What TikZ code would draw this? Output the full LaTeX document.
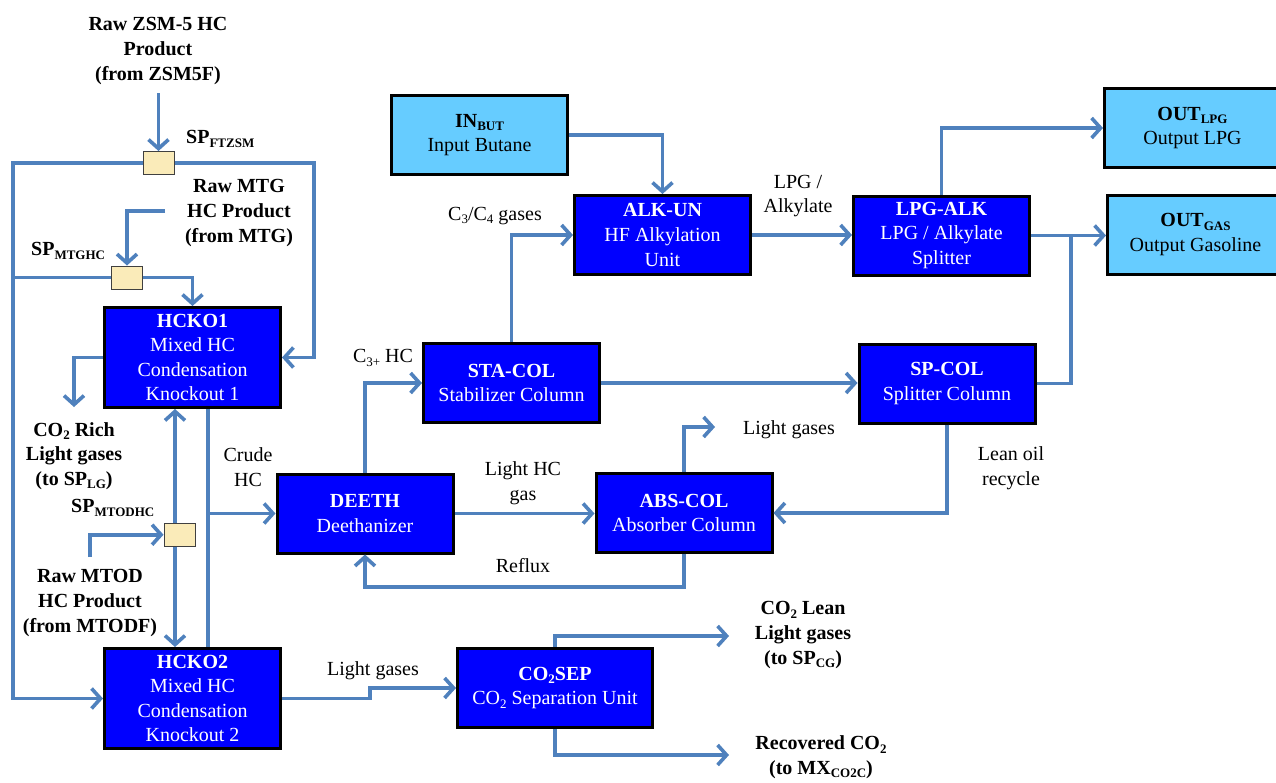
\documentclass[tikz,border=0pt]{standalone}
\usepackage{fontspec}
\setmainfont{Liberation Serif}
\usetikzlibrary{arrows.meta,calc}
\definecolor{procblue}{RGB}{0,0,255}
\definecolor{iobox}{RGB}{102,204,255}
\definecolor{pipeblue}{RGB}{79,129,189}
\definecolor{splitfill}{RGB}{250,235,185}
\newcommand\sub[1]{\raisebox{-3.5pt}{\fontsize{13}{13}\selectfont #1}}
\tikzset{
  unit/.style={draw=black, line width=3pt, fill=procblue, text=white,
    minimum width=176pt, minimum height=79pt, align=center, inner sep=0pt,
    font=\fontsize{20}{24.6}\selectfont},
  iounit/.style={unit, fill=iobox, text=black},
  splitter/.style={draw=black!75, line width=1pt, fill=splitfill,
    minimum width=31pt, minimum height=23pt, inner sep=0pt},
  lbl/.style={align=center, inner sep=0pt, font=\fontsize{20}{24.6}\selectfont},
  blbl/.style={lbl, font=\fontsize{20}{24.6}\selectfont\bfseries},
  pipe/.style={draw=pipeblue, line width=3.6pt},
  flow/.style={pipe, -{Straight Barb[length=9pt,width=20pt]}}
}
\begin{document}
\begin{tikzpicture}[x=1pt,y=-1pt]
\clip (0,0) rectangle (1276,782);
\fill[white] (0,0) rectangle (1276,782);

% process units
\node[iounit] (inbut)  at (479.5,135)   {\textbf{IN\sub{BUT}}\\Input Butane};
\node[unit]   (alkun)  at (662.5,235)   {\textbf{ALK-UN}\\HF Alkylation\\Unit};
\node[unit]   (lpgalk) at (941.5,235.5) {\textbf{LPG-ALK}\\LPG / Alkylate\\Splitter};
\node[iounit] (outlpg) at (1192.5,128)  {\textbf{OUT\sub{LPG}}\\Output LPG};
\node[iounit] (outgas) at (1195.5,234.5){\textbf{OUT\sub{GAS}}\\Output Gasoline};
\node[unit]   (stacol) at (511.5,383)   {\textbf{STA-COL}\\Stabilizer Column};
\node[unit]   (spcol)  at (947,383.5)   {\textbf{SP-COL}\\Splitter Column};
\node[unit]   (deeth)  at (365,513.5)   {\textbf{DEETH}\\Deethanizer};
\node[unit]   (abscol) at (684,513)     {\textbf{ABS-COL}\\Absorber Column};
\node[unit, minimum height=100pt] (hcko1) at (192.5,357.5)
  {\textbf{HCKO1}\\Mixed HC\\Condensation\\Knockout 1};
\node[unit, minimum height=100pt] (hcko2) at (192.5,698.5)
  {\textbf{HCKO2}\\Mixed HC\\Condensation\\Knockout 2};
\node[unit, minimum width=195pt] (co2sep) at (555,688)
  {\textbf{CO\sub{2}SEP}\\CO\sub{2} Separation Unit};

% splitters
\node[splitter] (sp1) at (158.5,163)   {};
\node[splitter] (sp2) at (127,277.5)   {};
\node[splitter] (sp3) at (179.5,534.7) {};

% stream labels
\node[blbl] (zsmlbl)  at (158,51)  {Raw ZSM-5 HC\\Product\\(from ZSM5F)};
\node[blbl, anchor=west] (sp1lbl) at (186,139) {SP\sub{FTZSM}};
\node[blbl] (mtglbl)  at (239,213) {Raw MTG\\HC Product\\(from MTG)};
\node[blbl, anchor=west] (sp2lbl) at (31,251) {SP\sub{MTGHC}};
\node[blbl] (co2rlbl) at (74,456)  {CO\sub{2} Rich\\Light gases\\(to SP\sub{LG})};
\node[blbl, anchor=west] (sp3lbl) at (71,508) {SP\sub{MTODHC}};
\node[blbl] (mtodlbl) at (90,603)  {Raw MTOD\\HC Product\\(from MTODF)};
\node[lbl] (crudelbl) at (248,467) {Crude\\HC};
\node[lbl] (c34lbl)   at (495,216) {C\sub{3}/C\sub{4} gases};
\node[lbl] (lpglbl)   at (798,196) {LPG /\\Alkylate};
\node[lbl] (c3lbl)    at (383,358) {C\sub{3+} HC};
\node[lbl] (lhclbl)   at (523,483) {Light HC\\gas};
\node[lbl] (lglbl)    at (789,430) {Light gases};
\node[lbl] (leanlbl)  at (1011,468){Lean oil\\recycle};
\node[lbl] (reflbl)   at (523,566) {Reflux};
\node[lbl] (lg2lbl)   at (373,671) {Light gases};
\node[blbl] (leanco2) at (803,635) {CO\sub{2} Lean\\Light gases\\(to SP\sub{CG})};
\node[blbl] (recco2)  at (821,757) {Recovered CO\sub{2}\\(to MX\sub{CO2C})};

% free stream ends and bends
\coordinate (zsmA)  at (158.5,93);
\coordinate (L1)    at (13,163);
\coordinate (R1)    at (314,163);
\coordinate (L3)    at (13,277.5);
\coordinate (mtgA)  at (165,211);
\coordinate (co2r)  at (74,407);
\coordinate (mtodA) at (90,557);
\coordinate (stp)   at (370,692);
\coordinate (lean)  at (729,636);
\coordinate (rec)   at (729,755);
\coordinate (lgas)  at (715,427);
\coordinate (jg)    at (1071,234);

% feeds into the knockouts
\draw[flow] (zsmA) -- (sp1.north);
\draw[flow] (sp1.west) -- (L1) |- (hcko2.west);
\draw[flow] (sp1.east) -- (R1) |- (hcko1.east);
\draw[flow] (mtgA) -| (sp2.north);
\draw[pipe] (sp2.west) -- (L3);
\draw[flow] (sp2.east) -| (hcko1.north);
\draw[flow] (hcko1.west) -| (co2r);
\draw[flow] (mtodA) |- (sp3.west);
\draw[flow] ([xshift=-4.5pt]sp3.north) -- ([xshift=-4.5pt]sp3.north |- hcko1.south);
\draw[flow] ([xshift=-4.5pt]sp3.south) -- ([xshift=-4.5pt]sp3.south |- hcko2.north);

% crude HC to the deethanizer
\draw[pipe] ([xshift=15.5pt]hcko1.south) -- ([xshift=15.5pt]hcko2.north);
\draw[flow] ([xshift=15.5pt]hcko1.south |- deeth.west) -- (deeth.west);

% CO2 separation
\draw[flow] (hcko2.east) -| (stp) |- (co2sep.west);
\draw[flow] (co2sep.north) |- (lean);
\draw[flow] (co2sep.south) |- (rec);

% light ends section
\draw[flow] (deeth.north) |- (stacol.west);
\draw[flow] (deeth.east) -- (deeth.east -| abscol.west);
\draw[flow] (abscol.south) -- ++(0,33) -| (deeth.south);
\draw[flow] (abscol.north) |- (lgas);
\draw[flow] (spcol.south) |- (abscol.east);
\draw[flow] (stacol.east) -- (stacol.east -| spcol.west);
\draw[flow] (stacol.north) |- (alkun.west);
\draw[flow] (inbut.east) -| (alkun.north);
\draw[flow] (alkun.east) -- (alkun.east -| lpgalk.west);
\draw[flow] (lpgalk.north) |- (outlpg.west);
\draw[flow] (lpgalk.east) -- (lpgalk.east -| outgas.west);
\draw[pipe] (spcol.east) -| (jg);
\end{tikzpicture}
\end{document}
